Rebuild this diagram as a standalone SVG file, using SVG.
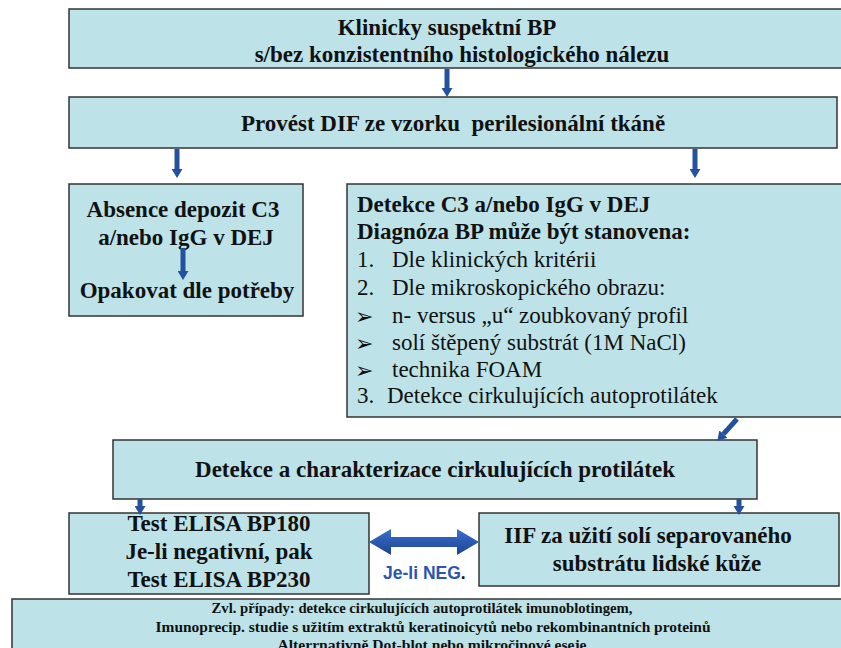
<svg xmlns="http://www.w3.org/2000/svg" width="841" height="648" viewBox="0 0 841 648">
  <style>
    .box { fill: #bde3e8; stroke: #333; stroke-width: 1.5; }
    .tb { font-family: "Liberation Serif", "Times New Roman", serif; font-size: 23px; font-weight: bold; fill: #111; }
    .tr { font-family: "Liberation Serif", "Times New Roman", "DejaVu Sans", serif; font-size: 23px; fill: #111; }
    .bul { font-family: "DejaVu Sans", sans-serif; font-size: 22px; fill: #111; }
    .tc { text-anchor: middle; }
    .small { font-family: "Liberation Serif", "Times New Roman", serif; font-size: 14px; font-weight: bold; fill: #111; text-anchor: middle; }
    .conn { stroke: #23509f; stroke-width: 5; fill: none; marker-end: url(#head); }
    .neg { font-family: "Liberation Sans", Arial, sans-serif; font-size: 17.5px; font-weight: bold; fill: #2a55b5; }
  </style>
  <defs>
    <marker id="head" markerUnits="userSpaceOnUse" markerWidth="9" markerHeight="11" viewBox="0 0 9 11" refX="0" refY="5.5" orient="auto">
      <path d="M0,0 L9,5.5 L0,11 z" fill="#23509f"/>
    </marker>
    <linearGradient id="dbl" x1="0" y1="0" x2="0" y2="1">
      <stop offset="0" stop-color="#3b6fcf"/>
      <stop offset="1" stop-color="#1c4391"/>
    </linearGradient>
  </defs>

  <rect width="841" height="648" fill="#ffffff"/>

  <g id="n1">
    <rect class="box" x="69" y="9" width="790" height="59"/>
    <text class="tb tc" x="447" y="35">Klinicky suspektní BP</text>
    <text class="tb tc" x="462" y="62">s/bez konzistentního histologického nálezu</text>
  </g>

  <g id="n2">
    <rect class="box" x="69" y="97" width="768" height="51"/>
    <text class="tb tc" x="453" y="131" xml:space="preserve">Provést DIF ze vzorku  perilesionální tkáně</text>
  </g>

  <g id="n3">
    <rect class="box" x="69" y="184" width="234" height="132"/>
    <text class="tb tc" x="183" y="217">Absence depozit C3</text>
    <text class="tb tc" x="186" y="245">a/nebo IgG v DEJ</text>
    <text class="tb tc" x="187" y="298">Opakovat dle potřeby</text>
  </g>

  <g id="n4">
    <rect class="box" x="347" y="184" width="510" height="233"/>
    <text class="tb" x="357" y="212">Detekce C3 a/nebo IgG v DEJ</text>
    <text class="tb" x="357" y="239">Diagnóza BP může být stanovena:</text>
    <text class="tr" x="357" y="267">1.</text>
    <text class="tr" x="392" y="267">Dle klinických kritérii</text>
    <text class="tr" x="357" y="295">2.</text>
    <text class="tr" x="392" y="295">Dle mikroskopického obrazu:</text>
    <text class="bul" x="355" y="324">➢</text>
    <text class="tr" x="392" y="323">n- versus „u“ zoubkovaný profil</text>
    <text class="bul" x="355" y="351">➢</text>
    <text class="tr" x="392" y="350">solí štěpený substrát (1M NaCl)</text>
    <text class="bul" x="355" y="378">➢</text>
    <text class="tr" x="392" y="377">technika FOAM</text>
    <text class="tr" x="357" y="403">3.</text>
    <text class="tr" x="387" y="403">Detekce cirkulujících autoprotilátek</text>
  </g>

  <g id="n5">
    <rect class="box" x="113" y="440" width="644" height="59"/>
    <text class="tb tc" x="435" y="477">Detekce a charakterizace cirkulujících protilátek</text>
  </g>

  <g id="n6">
    <rect class="box" x="69" y="513" width="300" height="81"/>
    <text class="tb tc" x="219" y="531">Test ELISA BP180</text>
    <text class="tb tc" x="219" y="559">Je-li negativní, pak</text>
    <text class="tb tc" x="219" y="587">Test ELISA BP230</text>
  </g>

  <g id="n7">
    <rect class="box" x="479" y="513" width="360" height="73"/>
    <text class="tb tc" x="648" y="543">IIF za užití solí separovaného</text>
    <text class="tb tc" x="657" y="571">substrátu lidské kůže</text>
  </g>

  <g id="n8">
    <rect class="box" x="12" y="599" width="840" height="60"/>
    <text class="small" x="422" y="613" textLength="421" lengthAdjust="spacingAndGlyphs">Zvl. případy: detekce cirkulujících autoprotilátek imunoblotingem,</text>
    <text class="small" x="433" y="632" textLength="555" lengthAdjust="spacingAndGlyphs">Imunoprecip. studie s užitím extraktů keratinoicytů nebo rekombinantních proteinů</text>
    <text class="small" x="432" y="650" textLength="309" lengthAdjust="spacingAndGlyphs">Alterrnativně Dot-blot nebo mikročipové eseje</text>
  </g>

  <g id="connectors">
    <line class="conn" x1="447" y1="69" x2="447" y2="88"/>
    <line class="conn" x1="177" y1="149" x2="177" y2="169"/>
    <line class="conn" x1="695" y1="149" x2="695" y2="169"/>
    <line class="conn" x1="183" y1="248" x2="183" y2="271"/>
    <line class="conn" x1="737" y1="419" x2="723.4" y2="434.1"/>
    <line class="conn" x1="140" y1="499" x2="140" y2="506"/>
    <line class="conn" x1="739" y1="499" x2="739" y2="506"/>
    <polygon points="369,542 391,529 391,537 457,537 457,529 479,542 457,555 457,547 391,547 391,555" fill="url(#dbl)"/>
    <text class="neg" x="383" y="579">Je-li NEG<tspan fill="#111">.</tspan></text>
  </g>
</svg>
